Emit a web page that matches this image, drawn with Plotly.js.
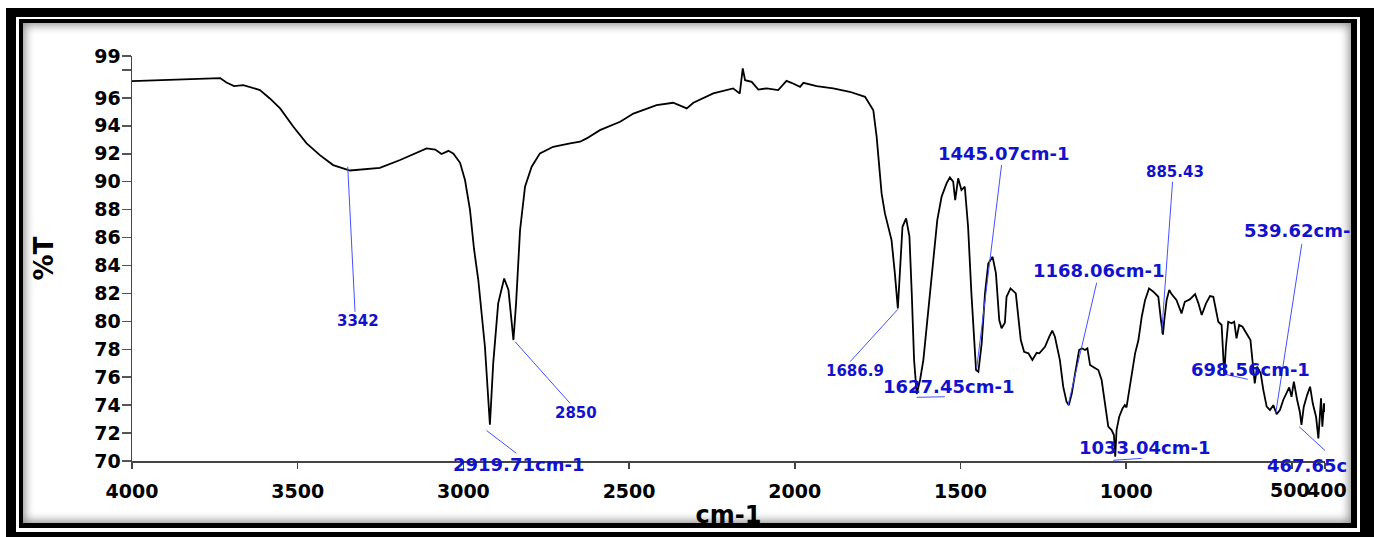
<!DOCTYPE html>
<html>
<head>
<meta charset="utf-8">
<script src="https://cdn.plot.ly/plotly-3.0.1.min.js"></script>
<style>
  html, body { margin:0; padding:0; background:#fff; width:1374px; height:537px; overflow:hidden; }
  #f1 { position:absolute; left:6px; top:8px; width:1368px; height:529px; box-sizing:border-box;
        border-style:solid; border-color:#000; border-width:9px 14px 5px 10px; }
  #f2 { position:absolute; left:19px; top:19px; width:1338px; height:509px; box-sizing:border-box;
        border-style:solid; border-color:#000; border-width:4px 6px 5px 4px; background:#fff;
        box-shadow: inset 0 0 10px 2px rgba(0,0,0,0.45); }
  #chart { position:absolute; left:0; top:0; width:1374px; height:537px; z-index:2; }
</style>
</head>
<body>
<div id="f1"></div>
<div id="f2"></div>
<div id="chart"></div>
<script>
// Wavenumber (cm-1) and transmittance (%T)
const wavenumber = [
  4000, 3950, 3900, 3850, 3800, 3760, 3734, 3715, 3692, 3664, 3640, 3614, 3584, 3553, 3513, 3473, 3433, 3393, 3342, 3292, 3252,
  3191, 3150, 3111, 3085, 3066, 3045, 3030, 3010, 2995, 2980, 2968, 2955, 2935, 2920, 2910, 2895, 2877, 2864, 2849, 2841,
  2829, 2814, 2794, 2769, 2729, 2678, 2648, 2628, 2588, 2527, 2487, 2417, 2367, 2326, 2306, 2246, 2186, 2166, 2157, 2150,
  2130, 2110, 2085, 2050, 2025, 2010, 1984, 1974, 1934, 1884, 1834, 1788, 1763, 1753, 1738, 1728, 1708, 1698, 1689, 1683,
  1675, 1664, 1654, 1647, 1640, 1632, 1622, 1612, 1597, 1582, 1570, 1557, 1542, 1532, 1522, 1516, 1507, 1497, 1487, 1477,
  1467, 1453, 1446, 1436, 1426, 1416, 1403, 1393, 1383, 1376, 1366, 1361, 1349, 1333, 1326, 1318, 1308, 1295, 1283, 1270,
  1262, 1255, 1245, 1232, 1223, 1215, 1200, 1190, 1180, 1173, 1164, 1154, 1142, 1134, 1124, 1117, 1109, 1097, 1084, 1074,
  1064, 1054, 1044, 1037, 1033, 1029, 1021, 1011, 1004, 999, 989, 973, 963, 953, 943, 931, 918, 903, 895, 889,
  885, 878, 870, 863, 848, 833, 823, 808, 792, 782, 772, 759, 747, 737, 729, 722, 712, 707, 704, 699,
  692, 682, 674, 667, 659, 649, 637, 625, 617, 612, 605, 594, 586, 576, 566, 556, 546, 536, 526, 516,
  508, 501, 494, 484, 476, 471, 464, 454, 445, 437, 427, 420, 415, 412, 408, 403, 400
];
const transmittance = [
  97.2, 97.25, 97.3, 97.33, 97.38, 97.4, 97.42, 97.1, 96.85, 96.92, 96.75, 96.56, 95.96, 95.25, 93.93, 92.74, 91.9, 91.19, 90.8, 90.88, 90.99,
  91.55, 92.0, 92.38, 92.3, 91.98, 92.21, 92.0, 91.35, 90.1, 87.97, 85.2, 82.96, 78.18, 72.6, 76.99, 81.29, 83.07, 82.24, 78.66, 81.29,
  86.54, 89.64, 91.07, 92.03, 92.5, 92.74, 92.86, 93.1, 93.69, 94.29, 94.88, 95.48, 95.65, 95.25, 95.65, 96.32, 96.68, 96.32, 98.11, 97.27,
  97.15, 96.6, 96.68, 96.56, 97.22, 97.08, 96.79, 97.08, 96.84, 96.68, 96.44, 96.08, 95.12, 93.22, 89.16, 87.73, 85.82, 83.43, 80.93, 83.43,
  86.77, 87.37, 86.06, 81.99, 77.23, 74.8, 75.8, 77.23, 80.81, 84.39, 87.25, 88.92, 89.88, 90.31, 90.0, 88.68, 90.24, 89.4, 89.64, 86.77,
  82.0, 76.51, 76.39, 78.42, 82.0, 84.15, 84.62, 83.43, 80.09, 79.5, 79.9, 81.76, 82.36, 82.0, 80.33, 78.66, 77.82, 77.71, 77.23, 77.75,
  77.71, 77.9, 78.18, 78.9, 79.33, 78.9, 77.23, 75.32, 74.25, 74.0, 74.85, 76.28, 77.95, 78.07, 77.95, 78.07, 76.87, 76.7, 76.51, 75.8,
  74.13, 72.46, 72.22, 71.86, 70.3, 72.22, 73.17, 73.77, 74.0, 73.84, 75.32, 77.71, 78.66, 80.33, 81.52, 82.36, 82.12, 81.76, 80.09, 79.05,
  80.09, 81.52, 82.24, 81.95, 81.52, 80.57, 81.4, 81.57, 81.95, 81.29, 80.45, 81.29, 81.81, 81.76, 80.81, 79.97, 79.74, 77.71, 76.16, 78.18,
  79.97, 79.86, 79.97, 78.78, 79.74, 79.61, 79.14, 78.66, 76.75, 75.56, 76.75, 76.28, 75.08, 73.89, 73.65, 74.0, 73.36, 73.65, 74.37, 74.85,
  75.27, 74.6, 75.68, 74.37, 73.53, 72.58, 73.89, 74.72, 75.32, 74.13, 73.17, 71.62, 73.41, 74.49, 72.46, 74.13, 73.5
];

// Axis ticks (the 500 and 400 labels sit side by side, drawn as annotations below)
const xTickVals = [4000, 3500, 3000, 2500, 2000, 1500, 1000, 500, 400];
const xTickText = ['4000', '3500', '3000', '2500', '2000', '1500', '1000', '', ''];
const xCloseTickVals = [500, 400];
const xCloseTickText = ['500', '400'];
const yTickVals = [70, 72, 74, 76, 78, 80, 82, 84, 86, 88, 90, 92, 94, 96, 98, 99];
const yTickText = ['70', '72', '74', '76', '78', '80', '82', '84', '86', '88', '90', '92', '94', '96', '', '99'];

// Peak labels: text, leader start (wn, T), leader end (wn, T), label centre (wn, T)
const peakLabels = ['3342', '2919.71cm-1', '2850', '1686.9', '1627.45cm-1', '1445.07cm-1', '1168.06cm-1', '885.43', '539.62cm-', '698.56cm-1', '1033.04cm-1', '467.65c'];
const leaderFromWn = [3349, 2930, 2844, 1689, 1632, 1376, 1089, 860, 470, 702, 1039, 478];
const leaderFromT  = [91.07, 72.18, 78.54, 80.86, 74.56, 91.19, 82.76, 89.99, 85.53, 76.21, 70.05, 72.46];
const leaderToWn   = [3327, 2840, 2678, 1833, 1547, 1451, 1175, 893, 549, 633, 953, 400];
const leaderToT    = [80.69, 70.55, 74.13, 77.11, 74.6, 76.64, 74.01, 79.14, 73.36, 75.85, 70.19, 70.75];
const labelWn      = [3318, 2835, 2661, 1819, 1537, 1371, 1083, 853, 485, 626, 946, 453];
const labelT       = [80.02, 70.0, 73.44, 76.44, 75.30, 92.02, 83.67, 90.71, 86.48, 76.56, 70.99, 70.0];
const labelShift   = [0, -3, 0, 0, 0, 0, 0, 0, 0, 0, 0, -4];
const labelBig     = [false, true, false, false, true, true, true, false, true, true, true, true];

const blueText = 'rgb(18,18,205)';
const blueLine = 'rgb(70,80,255)';

const shapes = peakLabels.map((_, i) => ({
  type: 'line', xref: 'x', yref: 'y',
  x0: leaderFromWn[i], y0: leaderFromT[i], x1: leaderToWn[i], y1: leaderToT[i],
  line: { color: blueLine, width: 1 }
}));

const annotations = peakLabels.map((t, i) => ({
  text: t, xref: 'x', yref: 'y', x: labelWn[i], y: labelT[i], yshift: labelShift[i],
  showarrow: false, xanchor: 'center', yanchor: 'middle',
  font: { family: 'DejaVu Sans', size: labelBig[i] ? 18 : 15, weight: 'bold', color: blueText }
}));

const tickFont = { family: 'DejaVu Sans', size: 19, weight: 'bold', color: '#000' };

// "500" ends and "400" starts at the same point between the two ticks
xCloseTickText.forEach((t, i) => {
  annotations.push({
    text: t, xref: 'x', yref: 'paper', x: xCloseTickVals[0],
    y: -0.0716, xshift: i === 0 ? 18 : 15,
    xanchor: i === 0 ? 'right' : 'left', yanchor: 'middle', showarrow: false,
    borderpad: 0, borderwidth: 0,
    font: tickFont
  });
});

const trace = {
  x: wavenumber, y: transmittance, type: 'scatter', mode: 'lines',
  line: { color: '#000', width: 1.8 }, hoverinfo: 'x+y'
};

const layout = {
  width: 1374, height: 537,
  margin: { l: 132, r: 49, t: 56, b: 76 },
  paper_bgcolor: 'rgba(0,0,0,0)', plot_bgcolor: 'rgba(0,0,0,0)',
  showlegend: false,
  xaxis: {
    range: [4000, 400], tickmode: 'array', tickvals: xTickVals, ticktext: xTickText, tickangle: 0,
    showgrid: false, zeroline: false, showline: true, linecolor: '#444', linewidth: 1.5,
    ticks: 'outside', ticklen: 6, tickcolor: '#444', tickwidth: 1.5, tickfont: tickFont,
    ticklabelstandoff: 7, automargin: false,
    title: { text: 'cm-1', font: { family: 'DejaVu Sans', size: 24, weight: 'bold', color: '#000' }, standoff: 5 }
  },
  yaxis: {
    range: [70, 99], tickmode: 'array', tickvals: yTickVals, ticktext: yTickText,
    showgrid: false, zeroline: false, showline: true, linecolor: '#444', linewidth: 1.5,
    ticks: 'outside', ticklen: 9, tickcolor: '#555', tickwidth: 1.5, tickfont: tickFont,
    ticklabelstandoff: -3, automargin: false,
    title: { text: '%T', font: { family: 'DejaVu Sans', size: 26, weight: 'bold', color: '#000' }, standoff: 33 }
  },
  shapes: shapes,
  annotations: annotations
};

Plotly.newPlot('chart', [trace], layout, { displayModeBar: false, staticPlot: true });
</script>
</body>
</html>
